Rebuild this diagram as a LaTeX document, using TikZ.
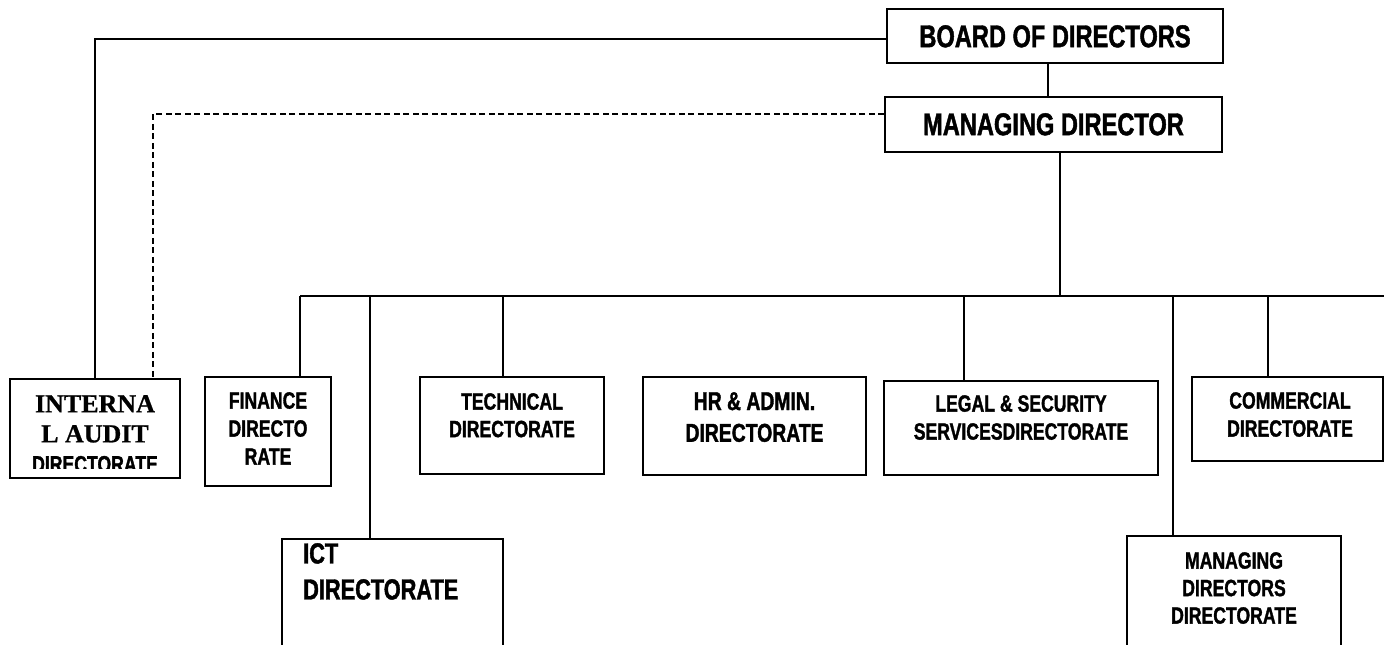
\documentclass[tikz,border=0pt]{standalone}
\usepackage{fontspec}
\setmainfont{Liberation Sans}[FakeStretch=0.75, BoldFeatures={FakeBold=1.4}]
\newfontfamily\auditserif{Liberation Serif}[BoldFeatures={FakeBold=0.8}]
\begin{document}
\begin{tikzpicture}[x=1pt,y=-1pt,
  box/.style={draw, line width=1.8pt, rectangle, inner sep=0pt},
  lbl/.style={inner sep=0pt, align=center, anchor=north},
  conn/.style={line width=1.8pt},
  dashconn/.style={line width=1.6pt, dash pattern=on 6pt off 3.5pt}]
\useasboundingbox (0,0) rectangle (1384,645);
\clip (0,0) rectangle (1384,645);
\fill[white] (0,0) rectangle (1384,645);

% boxes
\node[box, minimum width=336pt, minimum height=54pt] (board) at (1055,36) {};
\node[box, minimum width=337pt, minimum height=55pt] (md) at (1053.5,124.5) {};
\node[box, minimum width=170pt, minimum height=99pt] (audit) at (95,428.5) {};
\node[box, minimum width=126pt, minimum height=109pt] (finance) at (268,431.5) {};
\node[box, minimum width=221pt, minimum height=141pt] (ict) at (392.5,609.5) {};
\node[box, minimum width=184pt, minimum height=97pt] (tech) at (512,425.5) {};
\node[box, minimum width=223pt, minimum height=98pt] (hr) at (754.5,426) {};
\node[box, minimum width=274pt, minimum height=94pt] (legal) at (1021,428) {};
\node[box, minimum width=191pt, minimum height=84pt] (comm) at (1287.5,419) {};
\node[box, minimum width=214pt, minimum height=144pt] (mdd) at (1234,608) {};

% texts
\node[lbl, font=\bfseries\fontsize{31.5}{36}\selectfont] (boardtxt) at (1055,25) {BOARD OF DIRECTORS};
\node[lbl, font=\bfseries\fontsize{31.5}{36}\selectfont] (mdtxt) at (1053.5,113) {MANAGING DIRECTOR};
\node[lbl, font=\bfseries\fontsize{23.5}{27.5}\selectfont] (techtxt) at (512,393) {TECHNICAL\\DIRECTORATE};
\node[lbl, font=\bfseries\fontsize{25.8}{31.7}\selectfont] (hrtxt) at (754.5,392) {HR \& ADMIN.\\DIRECTORATE};
\node[lbl, font=\bfseries\fontsize{23.5}{28}\selectfont] (legaltxt) at (1021,395) {LEGAL \& SECURITY\\SERVICESDIRECTORATE};
\node[lbl, font=\bfseries\fontsize{23.5}{28}\selectfont] (commtxt) at (1290,392) {COMMERCIAL\\DIRECTORATE};
\node[lbl, font=\bfseries\fontsize{23.5}{27.5}\selectfont] (mddtxt) at (1234,552) {MANAGING\\DIRECTORS\\DIRECTORATE};
\node[lbl, font=\bfseries\fontsize{23.5}{28}\selectfont] (fintxt) at (268,392) {FINANCE\\DIRECTO\\RATE};
\node[lbl, anchor=north west, align=left, font=\bfseries\fontsize{29}{36}\selectfont] (icttxt) at (303,543) {ICT\\DIRECTORATE};
\begin{scope}
  \clip (10,379) rectangle (180,468);
  \node[lbl, font=\bfseries\fontsize{26}{30}\selectfont] (audittxt) at (95,395)
    {{\auditserif\bfseries INTERNA}\\{\auditserif\bfseries L AUDIT}\\{\fontsize{23.5}{30}\selectfont\bfseries DIRECTORATE}};
\end{scope}

% bus coordinates
\coordinate (bus) at (1060,296);
\coordinate (busL) at (300,296);
\coordinate (busR) at (1384,296);
\coordinate (jICT) at (370,296);
\coordinate (jTech) at (503,296);
\coordinate (jLegal) at (964,296);
\coordinate (jMDD) at (1173,296);
\coordinate (jComm) at (1268,296);

% connectors
\draw[conn] ([xshift=-7pt]board.south) -- ([xshift=-7pt]board.south |- md.north);
\draw[conn] ([yshift=-3pt]board.west) -| (audit.north);
\draw[dashconn] ([yshift=10.5pt]md.west) -| ([xshift=58pt]audit.north);
\draw[conn] (md.south -| bus) -- (bus);
\draw[conn] (busL) -- (busR);
\draw[conn] (busL) -- (busL |- finance.north);
\draw[conn] (jICT) -- (jICT |- ict.north);
\draw[conn] (jTech) -- (jTech |- tech.north);
\draw[conn] (jLegal) -- (jLegal |- legal.north);
\draw[conn] (jMDD) -- (jMDD |- mdd.north);
\draw[conn] (jComm) -- (jComm |- comm.north);
\end{tikzpicture}
\end{document}
